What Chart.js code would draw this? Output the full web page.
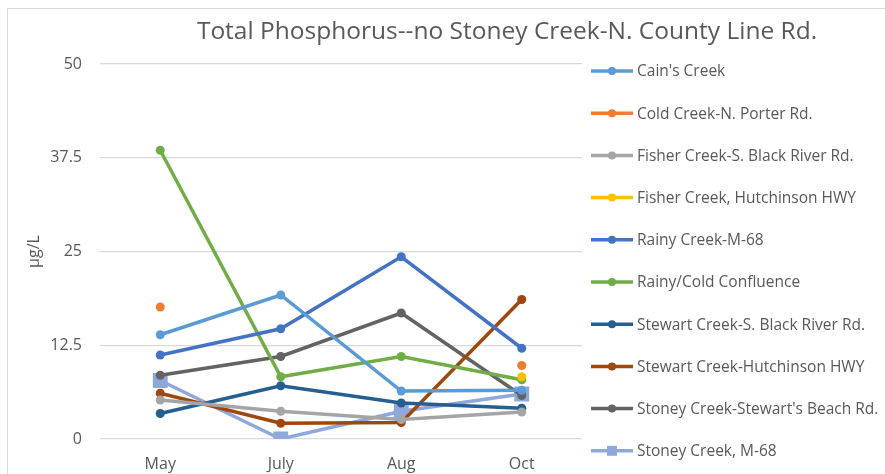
<!DOCTYPE html>
<html>
<head>
<meta charset="utf-8">
<script src="https://cdn.jsdelivr.net/npm/chart.js@4"></script>
<style>
  html, body { margin: 0; padding: 0; background: #fff; }
  #wrap { width: 885px; height: 474px; }
</style>
</head>
<body>
<div id="wrap"><canvas id="tpChart" width="885" height="474"></canvas></div>
<script>
const months = ["May", "July", "Aug", "Oct"];
const yTicks = [0, 12.5, 25, 37.5, 50];

const cainsCreek = [13.9, 19.2, 6.4, 6.5];
const coldCreekPorter = [17.6, null, null, 9.8];
const fisherBlackRiver = [5.2, 3.7, 2.6, 3.6];
const fisherHutchinson = [null, null, null, 8.3];
const rainyM68 = [11.2, 14.7, 24.3, 12.1];
const rainyColdConfluence = [38.5, 8.3, 11.0, 7.9];
const stewartBlackRiver = [3.4, 7.1, 4.8, 4.1];
const stewartHutchinson = [6.1, 2.1, 2.2, 18.6];
const stoneyStewartsBeach = [8.5, 11.0, 16.8, 5.8];
const stoneyM68 = [7.8, 0, 3.7, 6.0];

const seriesNames = [
  "Cain's Creek",
  "Cold Creek-N. Porter Rd.",
  "Fisher Creek-S. Black River Rd.",
  "Fisher Creek, Hutchinson HWY",
  "Rainy Creek-M-68",
  "Rainy/Cold Confluence",
  "Stewart Creek-S. Black River Rd.",
  "Stewart Creek-Hutchinson HWY",
  "Stoney Creek-Stewart's Beach Rd.",
  "Stoney Creek, M-68",
];
const seriesData = [
  cainsCreek, coldCreekPorter, fisherBlackRiver, fisherHutchinson, rainyM68,
  rainyColdConfluence, stewartBlackRiver, stewartHutchinson, stoneyStewartsBeach, stoneyM68,
];
const seriesColors = [
  "#5B9BD5", "#ED7D31", "#A5A5A5", "#FFC000", "#4472C4",
  "#70AD47", "#255E91", "#9E480E", "#636363", "#8FA8DC",
];

const textColor = "#595959";
const fontFamily = "'Open Sans', 'Liberation Sans', sans-serif";

const datasets = seriesNames.map((name, i) => {
  const isSquare = i === seriesNames.length - 1;
  return {
    label: name,
    data: seriesData[i],
    borderColor: seriesColors[i],
    backgroundColor: seriesColors[i],
    borderWidth: 3.5,
    pointStyle: isSquare ? "rect" : "circle",
    pointRadius: isSquare ? 10.5 : 4.5,
    pointBorderWidth: 0,
    spanGaps: false,
    tension: 0,
  };
});

// Office-style frame, title and line+marker legend
const decorPlugin = {
  id: "decor",
  beforeDraw(chart) {
    const ctx = chart.ctx;
    ctx.save();
    ctx.strokeStyle = "#d9d9d9";
    ctx.lineWidth = 1;
    ctx.strokeRect(7.5, 8.5, 900, 500);
    ctx.restore();
  },
  afterDraw(chart) {
    const ctx = chart.ctx;
    ctx.save();
    ctx.fillStyle = textColor;
    ctx.font = `24.5px ${fontFamily}`;
    ctx.textAlign = "center";
    ctx.textBaseline = "middle";
    ctx.fillText("Total Phosphorus--no Stoney Creek-N. County Line Rd.", 507, 32);

    ctx.font = `15.5px ${fontFamily}`;
    ctx.textAlign = "left";
    chart.data.datasets.forEach((ds, i) => {
      const y = 71 + i * 42.2;
      ctx.strokeStyle = ds.borderColor;
      ctx.lineWidth = 3.5;
      ctx.beginPath();
      ctx.moveTo(591, y);
      ctx.lineTo(633, y);
      ctx.stroke();
      ctx.fillStyle = ds.backgroundColor;
      if (ds.pointStyle === "rect") {
        ctx.fillRect(607, y - 5, 10, 10);
      } else {
        ctx.beginPath();
        ctx.arc(612, y, 4, 0, Math.PI * 2);
        ctx.fill();
      }
      ctx.fillStyle = textColor;
      ctx.fillText(ds.label, 637, y + 1);
    });
    ctx.restore();
  },
};

new Chart(document.getElementById("tpChart").getContext("2d"), {
  type: "line",
  data: { labels: months, datasets },
  options: {
    responsive: false,
    animation: false,
    layout: { padding: { top: 64, right: 303, bottom: 0, left: 0 } },
    plugins: {
      legend: { display: false },
      tooltip: { enabled: false },
    },
    scales: {
      x: {
        offset: true,
        grid: { display: false, drawTicks: false },
        border: { display: false },
        ticks: { color: textColor, font: { family: fontFamily, size: 16 }, padding: 16 },
        afterFit: (scale) => { scale.height = 35; },
      },
      y: {
        min: 0,
        max: 50,
        afterBuildTicks: (scale) => { scale.ticks = yTicks.map((v) => ({ value: v })); },
        grid: { color: "#d9d9d9", lineWidth: 1.3, drawTicks: false },
        border: { display: false },
        ticks: { color: textColor, font: { family: fontFamily, size: 16 }, padding: 18 },
        title: {
          display: true,
          text: "µg/L",
          color: textColor,
          font: { family: fontFamily, size: 16 },
          padding: { top: 25, bottom: 0 },
        },
        afterFit: (scale) => { scale.width = 100; },
      },
    },
  },
  plugins: [decorPlugin],
});
</script>
</body>
</html>
